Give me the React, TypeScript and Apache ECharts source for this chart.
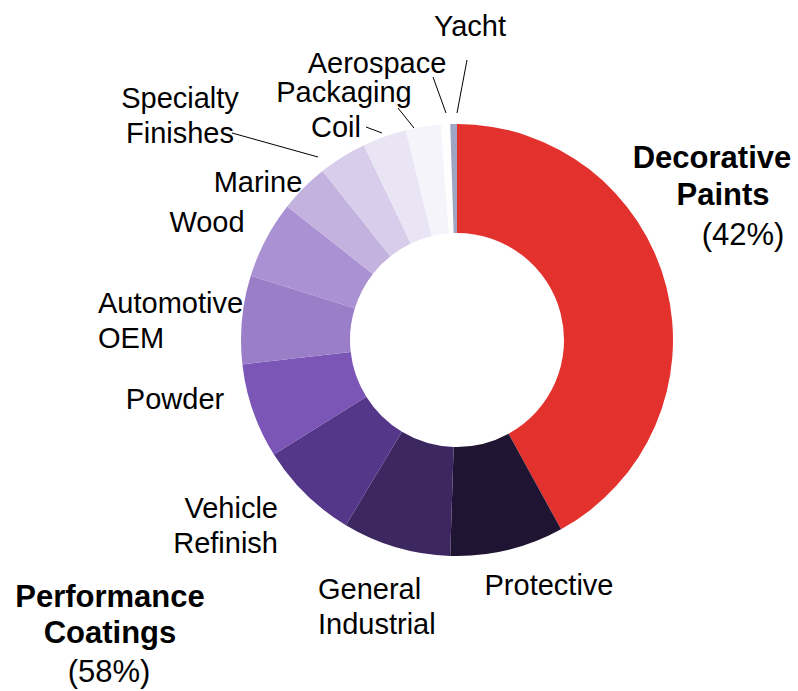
import React, { useEffect, useRef } from "react";
import * as echarts from "echarts";

// ---- data ----
const categories = [
  "Decorative\nPaints",
  "Protective",
  "General\nIndustrial",
  "Vehicle\nRefinish",
  "Powder",
  "Automotive\nOEM",
  "Wood",
  "Marine",
  "Specialty\nFinishes",
  "Coil",
  "Packaging",
  "Aerospace",
  "Yacht",
];
const shares = [42, 8.5, 8.1, 7.5, 7.1, 6.6, 5.8, 3.7, 3.6, 3.3, 2.6, 0.7, 0.5];
const groupTitles = ["Decorative\nPaints", "Performance\nCoatings"];

// ---- styles ----
const colors = [
  "#E3312D",
  "#1F1431",
  "#3D2760",
  "#553789",
  "#7C56B7",
  "#9A7EC7",
  "#A991D3",
  "#C3B2DE",
  "#D8CDEA",
  "#EAE5F4",
  "#F6F4FB",
  "#FEFEFF",
  "#9FA6C4",
];

// label anchor [x, y, align] and optional leader line [[x1,y1],[x2,y2]]
const labelPlacement: Array<[number, number, string] | null> = [
  null,
  [549, 585, "center"],
  [318, 606, "left"],
  [278, 525, "right"],
  [175, 399, "center"],
  [98, 320, "left"],
  [207, 222, "center"],
  [258, 182, "center"],
  [180, 115, "center"],
  [336, 127, "center"],
  [344, 92, "center"],
  [377, 63, "center"],
  [470, 26, "center"],
];
const leaderLines: Array<[[number, number], [number, number]] | null> = [
  null, null, null, null, null, null, null, null,
  [[232, 133], [318, 157]],
  [[366, 127], [382, 133]],
  [[398, 108], [414, 128]],
  [[433, 77], [446, 113]],
  [[467, 60], [457, 113]],
];

const FONT = "'Liberation Sans', Arial, Helvetica, sans-serif";

export default function App() {
  const ref = useRef<HTMLDivElement>(null);

  useEffect(() => {
    if (!ref.current) return;
    const chart = echarts.init(ref.current, null, { renderer: "svg" });

    const decorative = shares[0];
    const performance = Math.round(shares.slice(1).reduce((a, b) => a + b, 0));
    const [decoTitle, perfTitle] = groupTitles.map((t) => t.split("\n"));

    const data = categories.map((name, i) => ({
      name,
      value: shares[i],
      itemStyle: { color: colors[i] },
      label: { show: i !== 0 },
      labelLine: { show: !!leaderLines[i] },
    }));

    const boldText = (text: string, x: number, y: number, weight = "bold") => ({
      type: "text",
      x,
      y,
      style: {
        text,
        fontFamily: FONT,
        fontSize: 31,
        fontWeight: weight,
        fill: "#000",
        textAlign: "center",
        textVerticalAlign: "middle",
        verticalAlign: "middle",
        align: "center",
      },
    });

    chart.setOption({
      animation: false,
      backgroundColor: "#ffffff",
      series: [
        {
          type: "pie",
          center: [457, 340],
          radius: [107, 216],
          startAngle: 90,
          clockwise: true,
          avoidLabelOverlap: false,
          data,
          itemStyle: { borderWidth: 0 },
          label: {
            position: "outside",
            fontFamily: FONT,
            fontSize: 29,
            lineHeight: 35,
            color: "#000",
            formatter: "{b}",
          },
          labelLine: {
            lineStyle: { color: "#000", width: 1 },
          },
          emphasis: { disabled: true },
          labelLayout: (params: any) => {
            const i = params.dataIndex;
            const p = labelPlacement[i];
            if (!p) return {};
            const out: any = {
              x: p[0],
              y: p[1],
              align: p[2],
              verticalAlign: "middle",
            };
            const l = leaderLines[i];
            if (l) {
              out.labelLinePoints = [
                l[0],
                [(l[0][0] + l[1][0]) / 2, (l[0][1] + l[1][1]) / 2],
                l[1],
              ];
            }
            return out;
          },
        },
      ],
      graphic: [
        boldText(decoTitle[0], 712, 157),
        boldText(decoTitle[1], 723, 194),
        boldText(`(${decorative}%)`, 743, 234, "normal"),
        boldText(perfTitle[0], 110, 596),
        boldText(perfTitle[1], 110, 632),
        boldText(`(${performance}%)`, 109, 671, "normal"),
      ],
    });

    return () => chart.dispose();
  }, []);

  return (
    <div
      ref={ref}
      style={{ position: "fixed", left: 0, top: 0, width: 798, height: 691, background: "#fff" }}
    />
  );
}
